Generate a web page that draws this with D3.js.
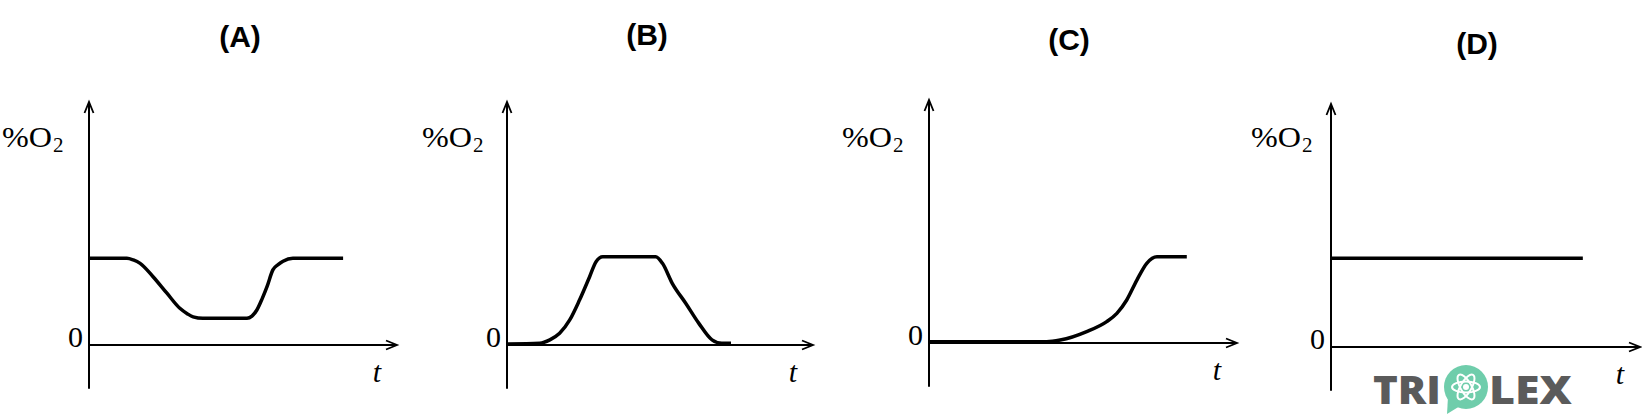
<!DOCTYPE html>
<html lang="en">
<head>
    <meta charset="UTF-8">
    <title>%O2 vs t - four graphs</title>
    <script src="https://cdn.jsdelivr.net/npm/d3@7"></script>
    <style>
        body { margin: 0; background: #fff; }
        svg { display: block; }
        .title { font-family: "Liberation Sans", Arial, sans-serif; font-weight: bold; font-size: 30px; }
        .math { font-family: "Liberation Serif", "DejaVu Serif", serif; font-size: 30px; }
    </style>
</head>
<body>
<div id="chart"></div>
<script>
    /*------------------- data -------------------*/
    const panelNames = ["(A)", "(B)", "(C)", "(D)"];

    // time (0..10 = length of t axis) and %O2 (0..10 = height of %O2 axis)
    const tA = [0, 1.23, 1.44, 1.66, 2.08, 2.53, 2.95, 3.20, 3.38, 3.70, 5.13, 5.29, 5.45, 5.62, 5.78, 5.97, 6.15, 6.30, 6.62, 8.25];
    const oA = [3.57, 3.57, 3.50, 3.36, 2.81, 2.13, 1.51, 1.28, 1.16, 1.10, 1.10, 1.19, 1.44, 1.90, 2.40, 3.09, 3.32, 3.45, 3.57, 3.57];

    const tB = [0, 1.07, 1.40, 1.72, 2.05, 2.37, 2.70, 2.91, 3.13, 4.86, 5.08, 5.40, 5.84, 6.27, 6.70, 7.02, 7.32];
    const oB = [0.04, 0.07, 0.21, 0.48, 1.03, 1.85, 2.81, 3.43, 3.63, 3.63, 3.36, 2.54, 1.72, 0.89, 0.21, 0.07, 0.07];

    const tC = [0, 3.82, 4.26, 5.12, 5.77, 6.10, 6.42, 6.75, 7.07, 7.40, 8.37];
    const oC = [0.05, 0.05, 0.12, 0.47, 0.88, 1.22, 1.77, 2.59, 3.28, 3.55, 3.55];

    const tD = [0, 8.15];
    const oD = [3.65, 3.65];

    const seriesT = [tA, tB, tC, tD];
    const seriesO = [oA, oB, oC, oD];

    const yLabel = "%O", yLabelSub = "2", xLabel = "t", zeroLabel = "0";

    /*------------------- layout of each small graph -------------------*/
    const layout = [
        {x0: 89,   y0: 345, top: 102, right: 397,  titleX: 240,  titleY: 47, labelX: 2},
        {x0: 507,  y0: 345, top: 102, right: 813,  titleX: 647,  titleY: 45, labelX: 422},
        {x0: 929,  y0: 343, top: 100, right: 1237, titleX: 1069, titleY: 50, labelX: 842},
        {x0: 1331, y0: 347, top: 104, right: 1640, titleX: 1477, titleY: 54, labelX: 1251}
    ];

    const svg = d3.select("#chart").append("svg")
        .attr("width", 1642)
        .attr("height", 420);

    layout.forEach((p, i) => {
        const x = d3.scaleLinear().domain([0, 10]).range([p.x0, p.right]);
        const y = d3.scaleLinear().domain([0, 10]).range([p.y0, p.top]);
        const g = svg.append("g");

        // title
        g.append("text").attr("class", "title")
            .attr("x", p.titleX).attr("y", p.titleY)
            .attr("text-anchor", "middle")
            .text(panelNames[i]);

        // axes
        g.append("line")
            .attr("x1", x(0)).attr("x2", x(0))
            .attr("y1", y(-1.8)).attr("y2", y(10))
            .attr("stroke", "#000").attr("stroke-width", 2);
        g.append("line")
            .attr("x1", x(0)).attr("x2", x(10))
            .attr("y1", y(0)).attr("y2", y(0))
            .attr("stroke", "#000").attr("stroke-width", 2);

        // arrow heads
        g.append("path")
            .attr("d", `M${x(0) - 4.5},${y(10) + 11} L${x(0)},${y(10)} L${x(0) + 4.5},${y(10) + 11}`)
            .attr("fill", "none").attr("stroke", "#000").attr("stroke-width", 1.8);
        g.append("path")
            .attr("d", `M${x(10) - 11},${y(0) - 4.5} L${x(10)},${y(0)} L${x(10) - 11},${y(0) + 4.5}`)
            .attr("fill", "none").attr("stroke", "#000").attr("stroke-width", 1.8);

        // labels
        const lab = g.append("text").attr("class", "math")
            .attr("x", p.labelX).attr("y", 147);
        lab.append("tspan")
            .attr("textLength", 50).attr("lengthAdjust", "spacingAndGlyphs")
            .text(yLabel);
        lab.append("tspan").attr("font-size", 21).attr("dx", 1).attr("dy", 5).text(yLabelSub);

        g.append("text").attr("class", "math")
            .attr("x", x(0) - 6).attr("y", y(0) + 2)
            .attr("text-anchor", "end")
            .text(zeroLabel);

        g.append("text").attr("class", "math")
            .attr("x", x(10) - 20).attr("y", y(0) + 37)
            .attr("text-anchor", "middle")
            .attr("font-style", "italic")
            .attr("font-size", 32)
            .text(xLabel);

        // the curve
        const pts = seriesT[i].map((t, k) => [t, seriesO[i][k]]);
        const line = d3.line()
            .x(d => x(d[0]))
            .y(d => y(d[1]))
            .curve(d3.curveMonotoneX);
        g.append("path")
            .attr("d", line(pts))
            .attr("fill", "none")
            .attr("stroke", "#000")
            .attr("stroke-width", 3.5)
            .attr("stroke-linejoin", "round");
    });

    /*------------------- watermark -------------------*/
    const logo = svg.append("g");
    const gray = "#5b5b5b", green = "#6fcdab";
    logo.append("text")
        .attr("x", 1373).attr("y", 404)
        .attr("font-family", "'Open Sans', sans-serif")
        .attr("font-weight", 800).attr("font-size", 39)
        .attr("fill", gray)
        .attr("textLength", 68).attr("lengthAdjust", "spacingAndGlyphs")
        .text("TRI");
    logo.append("text")
        .attr("x", 1489).attr("y", 404)
        .attr("font-family", "'Open Sans', sans-serif")
        .attr("font-weight", 800).attr("font-size", 39)
        .attr("fill", gray)
        .attr("textLength", 83).attr("lengthAdjust", "spacingAndGlyphs")
        .text("LEX");
    logo.append("path")
        .attr("d", "M1448,397 L1447,414 L1460,406 Z")
        .attr("fill", green);
    logo.append("circle")
        .attr("cx", 1466).attr("cy", 387).attr("r", 22)
        .attr("fill", green);
    [0, 60, 120].forEach(a => {
        logo.append("ellipse")
            .attr("cx", 1466).attr("cy", 387)
            .attr("rx", 14).attr("ry", 5.5)
            .attr("transform", `rotate(${a},1466,387)`)
            .attr("fill", "none").attr("stroke", "#fff").attr("stroke-width", 2);
    });
    logo.append("circle")
        .attr("cx", 1466).attr("cy", 387).attr("r", 3)
        .attr("fill", "#fff");
</script>
</body>
</html>
